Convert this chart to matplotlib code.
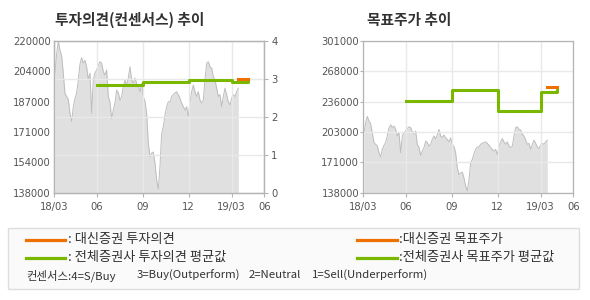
import numpy as np
import matplotlib
matplotlib.use("Agg")
import matplotlib.pyplot as plt
from matplotlib.lines import Line2D
from matplotlib.patches import Rectangle

plt.rcParams['font.family'] = ['Noto Sans CJK KR', 'DejaVu Sans']

# ---------------- data ----------------
prices = [203000, 213000, 220000, 215000, 212000, 202500, 191700, 190000, 188500, 181000,
          176500, 184500, 189000, 192000, 199000, 207500, 211000, 208000, 209600, 206000,
          199000, 202700, 181000, 199000, 202700, 204300, 207000, 208800, 208000, 203400,
          201600, 204300, 190000, 187000, 178000, 182700, 186500, 193500, 192000, 188000,
          190000, 195300, 199000, 196000, 200000, 206000, 199000, 197300, 200000, 197000,
          195300, 192600, 197000, 190000, 187500, 181000, 164800, 157500, 159400, 160000,
          154000, 145000, 140000, 152000, 170000, 173700, 180000, 184500, 187200, 187000,
          190000, 191000, 192000, 192600, 191000, 189000, 186500, 184500, 182700, 184500,
          179000, 187200, 192600, 196200, 192600, 190000, 192600, 188000, 186500, 188000,
          199000, 208000, 208800, 206000, 205400, 200700, 199000, 194500, 190000, 191000,
          184500, 190000, 194500, 191000, 187200, 185400, 189000, 191000, 190000, 192600,
          194500]

x_tick_labels = ['18/03', '06', '09', '12', '19/03', '06']
x_tick_pos = [-0.4, 25.2, 52.6, 80.2, 106.0, 125.6]

step_x = [25.2, 52.6, 80.2, 106.0, 116.0]
avg_opinion = [2.83, 2.91, 2.96, 2.92, 3.0]
avg_target = [236000, 248700, 226200, 245800, 251200]

daishin_x = [110.0, 116.0]
daishin_opinion = [3.0, 3.0]
daishin_target = [251200, 251200]

left_price_ticks = ['138000', '154000', '171000', '187000', '204000', '220000']
right_price_ticks = ['138000', '171000', '203000', '236000', '268000', '301000']
opinion_ticks = ['0', '1', '2', '3', '4']

# ---------------- style ----------------
ORANGE = '#ee7000'
GREEN = '#7ab800'
FILL = '#e0e0e0'
PLINE = '#bdbdbd'
GRID = '#e9e9e9'
SPINE = '#b4b4b4'
TXT = '#555555'

fig = plt.figure(figsize=(5.9, 3.0), dpi=100)
W, H = 590.0, 300.0


def ax_rect(x0, y_top, w, h):
    return [x0 / W, 1 - (y_top + h) / H, w / W, h / H]


x = np.arange(len(prices))


def style_price_axis(ax, lo, hi, labels):
    ax.fill_between(x, lo, prices, color=FILL, lw=0, zorder=0.5)
    ax.plot(x, prices, color=PLINE, lw=0.7, zorder=0.6)
    ax.set_xlim(x_tick_pos[0], x_tick_pos[-1])
    ax.set_ylim(lo, hi)
    ax.set_yticks(np.linspace(lo, hi, len(labels)))
    ax.set_yticklabels(labels)
    ax.set_xticks(x_tick_pos)
    ax.set_xticklabels(x_tick_labels)
    for s in ax.spines.values():
        s.set_color(SPINE)
        s.set_linewidth(0.9)
    ax.tick_params(axis='y', length=2, width=0.8, color=SPINE, labelsize=7.2,
                   labelcolor=TXT, pad=1)
    ax.tick_params(axis='x', length=3, width=0.8, color=SPINE, labelsize=7.2,
                   labelcolor=TXT, pad=4)
    for lab in ax.get_xticklabels() + ax.get_yticklabels():
        lab.set_family('DejaVu Sans')


# ---------- left chart ----------
axL = fig.add_axes(ax_rect(54.3, 41, 210, 151.7))
style_price_axis(axL, 138000, 220000, left_price_ticks)
axL.grid(axis='x', color=GRID, lw=1)
axL.tick_params(axis='y', length=0, pad=2.5)

axL2 = axL.twinx()
axL2.set_ylim(0, 4)
axL2.set_yticks(range(5))
axL2.set_yticklabels(opinion_ticks)
axL2.grid(axis='y', color=GRID, lw=1)
axL2.set_axisbelow(True)
for s in axL2.spines.values():
    s.set_color(SPINE)
    s.set_linewidth(0.9)
axL2.tick_params(axis='y', length=3, width=0.8, color=SPINE, labelsize=7.2,
                 labelcolor=TXT, pad=2)
for lab in axL2.get_yticklabels():
    lab.set_family('DejaVu Sans')
axL2.step(step_x, avg_opinion, where='post', color=GREEN, lw=2.2, zorder=3)
axL2.plot(daishin_x, daishin_opinion, color=ORANGE, lw=2.2, zorder=4)

# ---------- right chart ----------
axR = fig.add_axes(ax_rect(363.3, 41, 210, 151.7))
style_price_axis(axR, 138000, 301000, right_price_ticks)
axR.grid(color=GRID, lw=1)
axR.step(step_x, avg_target, where='post', color=GREEN, lw=2.2, zorder=3)
axR.plot(daishin_x, daishin_target, color=ORANGE, lw=2.2, zorder=4)

# ---------- titles ----------
fig.text(55 / W, 1 - 20 / H, '투자의견(컨센서스) 추이', fontsize=10.6, fontweight='bold',
         color='#333333', ha='left', va='center')
fig.text(366.7 / W, 1 - 20 / H, '목표주가 추이', fontsize=10.6, fontweight='bold',
         color='#333333', ha='left', va='center')

# ---------- legend box ----------
fig.add_artist(Rectangle((8.3 / W, 1 - 289.3 / H), (579.3 - 8.3) / W, (289.3 - 228) / H,
                         transform=fig.transFigure, facecolor='#fafafa',
                         edgecolor='#dddddd', lw=1))


def leg_item(x0, x1, y, color, label):
    fig.add_artist(Line2D([x0 / W, x1 / W], [1 - y / H, 1 - y / H], color=color, lw=2.3,
                          transform=fig.transFigure))
    fig.text((x1 + 2.5) / W, 1 - y / H, label, fontsize=9.5, color='#333333',
             ha='left', va='center')


leg_item(26, 65, 239.7, ORANGE, ': 대신증권 투자의견')
leg_item(26, 65, 257.7, GREEN, ': 전체증권사 투자의견 평균값')
leg_item(357.3, 396.7, 239.7, ORANGE, ':대신증권 목표주가')
leg_item(357.3, 396.7, 257.7, GREEN, ':전체증권사 목표주가 평균값')

cons_parts = ['컨센서스:4=S/Buy', '3=Buy(Outperform)', '2=Neutral', '1=Sell(Underperform)']
cons_x = [26, 137, 249, 312]
for px, t in zip(cons_x, cons_parts):
    fig.text(px / W, 1 - 275.3 / H, t, fontsize=8.2, color='#333333', ha='left', va='center')

fig.savefig('out.png', dpi=100)
